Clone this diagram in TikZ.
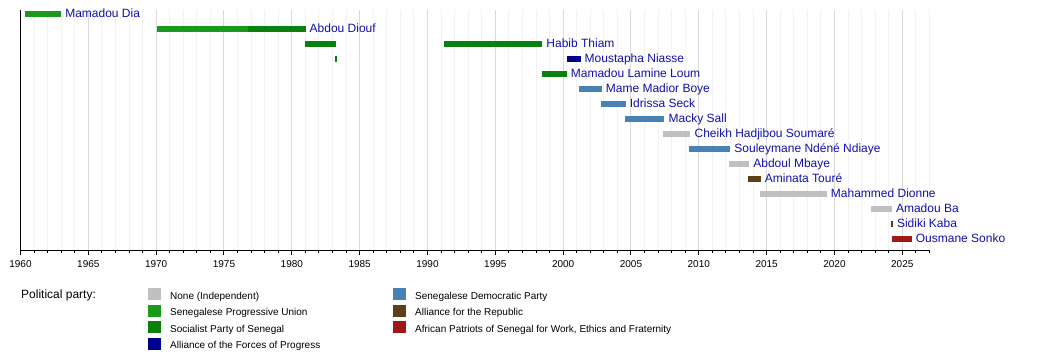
\documentclass[tikz,border=0pt]{standalone}
\usepackage{fontspec}
\setmainfont{Liberation Sans}
\usetikzlibrary{positioning}

\definecolor{indep}{HTML}{C0C0C0}
\definecolor{ups}{HTML}{1A9A1A}
\definecolor{ps}{HTML}{0C800C}
\definecolor{afp}{HTML}{000090}
\definecolor{pds}{HTML}{4682B4}
\definecolor{apr}{HTML}{5C4016}
\definecolor{pastef}{HTML}{A01818}
\definecolor{namecol}{HTML}{1111AA}
\definecolor{majorgrid}{HTML}{DADADA}
\definecolor{minorgrid}{HTML}{F2F2F2}

\begin{document}
\begin{tikzpicture}[
  x=1pt, y=-1pt,
  declare function={yr(\a)=20.5+13.566*(\a-1960);},
  pm/.style={anchor=base west, inner sep=0pt, xshift=4pt, text=namecol,
             font=\fontsize{12}{14}\selectfont},
  yearlbl/.style={anchor=base, inner sep=0pt, font=\fontsize{10}{12}\selectfont},
  swatch/.style={anchor=north west, inner sep=0pt, minimum width=13pt,
                 minimum height=12pt},
  partylbl/.style={anchor=base west, inner sep=0pt, font=\fontsize{10}{12}\selectfont}
]
  \fill[white] (0,0) rectangle (1050,360);
  \useasboundingbox (0,0) rectangle (1050,360);

  % grid
  \foreach \yy in {1961,...,2027}
    \draw[minorgrid, line width=1pt] ({yr(\yy)},10) -- ({yr(\yy)},250);
  \foreach \yy in {1965,1970,...,2025}
    \draw[majorgrid, line width=1pt] ({yr(\yy)},10) -- ({yr(\yy)},250);

  % axes
  \coordinate (axtop) at ({yr(1960)},10);
  \coordinate (origin) at ({yr(1960)},250);
  \coordinate (axend) at ({yr(2027.07)},250);
  \draw[line width=1pt] (axtop) -- (origin) -- (axend);
  \foreach \yy in {1960,...,2027}
    \draw[line width=1pt] ({yr(\yy)},250) -- ++(0,3);
  \foreach \yy in {1960,1965,...,2025}{
    \draw[line width=1pt] ({yr(\yy)},250) -- ++(0,5);
    \node[yearlbl] (yr\yy) at ({yr(\yy)},267.7) {\yy};
  }

  % terms without a label of their own
  \fill[ups] ({yr(1970.06)},26.2) rectangle ({yr(1976.77)},31.8);
  \fill[ps] ({yr(1980.97)},41.2) rectangle ({yr(1983.26)},46.8);
  \fill[ps] ({yr(1983.18)},56.2) rectangle ({yr(1983.33)},61.8);

  % prime ministers
  \foreach \s/\e/\r/\col/\id/\who in {
    1960.33/1962.99/1/ups/dia/Mamadou Dia,
    1976.77/1981.01/2/ps/diouf/Abdou Diouf,
    1991.22/1998.46/3/ps/thiam/Habib Thiam,
    2000.25/2001.28/4/afp/niasse/Moustapha Niasse,
    1998.44/2000.26/5/ps/loum/Mamadou Lamine Loum,
    2001.17/2002.84/6/pds/boye/Mame Madior Boye,
    2002.79/2004.61/7/pds/seck/Idrissa Seck,
    2004.56/2007.47/8/pds/sall/Macky Sall,
    2007.39/2009.38/9/indep/soumare/Cheikh Hadjibou Soumaré,
    2009.30/2012.32/10/pds/ndiaye/Souleymane Ndéné Ndiaye,
    2012.24/2013.71/11/indep/mbaye/Abdoul Mbaye,
    2013.63/2014.56/12/apr/toure/Aminata Touré,
    2014.51/2019.43/13/indep/dionne/Mahammed Dionne,
    2022.68/2024.23/14/indep/ba/Amadou Ba,
    2024.15/2024.30/15/apr/kaba/Sidiki Kaba,
    2024.24/2025.69/16/pastef/sonko/Ousmane Sonko}{
    \fill[\col] ({yr(\s)},{14+15*(\r-1)-2.8}) rectangle ({yr(\e)},{14+15*(\r-1)+2.8});
    \node[pm] (\id) at ({yr(\e)},{14+15*(\r-1)+3.3}) {\who};
  }

  % legend
  \node[anchor=base west, inner sep=0pt, font=\fontsize{12}{14}\selectfont]
    (legend) at (21,298.5) {Political party:};
  \foreach \col/\x/\top/\party in {
    indep/148/288/None (Independent),
    ups/148/304.6/Senegalese Progressive Union,
    ps/148/321.2/Socialist Party of Senegal,
    afp/148/337.8/Alliance of the Forces of Progress,
    pds/393/288/Senegalese Democratic Party,
    apr/393/304.6/Alliance for the Republic,
    pastef/393/321.2/{African Patriots of Senegal for Work, Ethics and Fraternity}}{
    \node[swatch, fill=\col] (sw-\col) at (\x,\top) {};
    \node[partylbl] (lg-\col) at (\x+22,\top+11) {\party};
  }
\end{tikzpicture}
\end{document}
